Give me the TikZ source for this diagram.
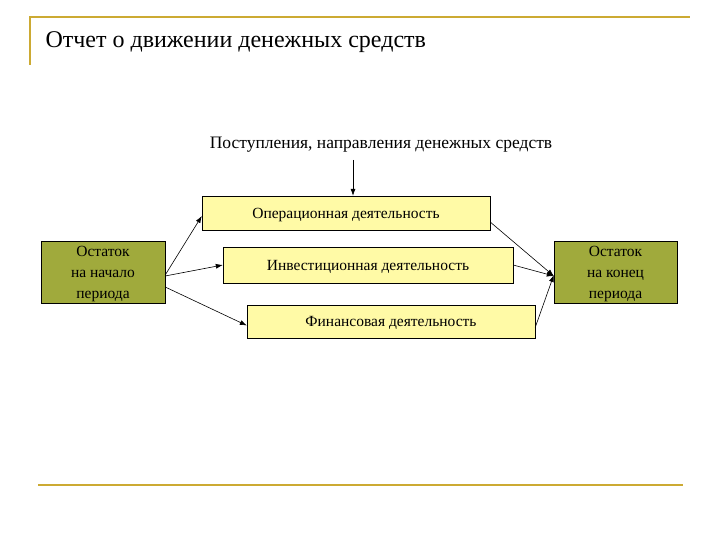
\documentclass[tikz,border=0pt]{standalone}
\usepackage{fontspec}
\setmainfont{Liberation Serif}
\usetikzlibrary{arrows.meta}
\begin{document}
\begin{tikzpicture}[x=1pt,y=-1pt,
  lbox/.style={draw=black,fill=yellow!35!white,inner sep=0pt,text depth=0pt,font=\fontsize{15.5}{18}\selectfont},
  gbox/.style={draw=black,fill={rgb,255:red,160;green,170;blue,60},inner sep=0pt,text depth=-2pt,align=center,font=\fontsize{15.5}{21}\selectfont},
  arr/.style={-{Latex[length=7pt,width=5pt]},semithick},
  gold/.style={draw={rgb,255:red,204;green,170;blue,51},line width=1.5pt}]
\useasboundingbox (0,0) rectangle (720,540);
\draw[gold] (30,65) -- (30,17) -- (690,17);
\draw[gold] (38,485) -- (683,485);
\node[anchor=west,font=\fontsize{24}{28}\selectfont] (title) at (42,42) {Отчет о движении денежных средств};
\node[font=\fontsize{17.5}{20}\selectfont] (head) at (381,145) {Поступления, направления денежных средств};
\node[lbox,minimum width=288,minimum height=34] (op) at (346,213) {Операционная деятельность};
\node[lbox,minimum width=290,minimum height=36] (inv) at (368,265) {Инвестиционная деятельность};
\node[lbox,minimum width=288,minimum height=33] (fin) at (391,321.5) {Финансовая деятельность};
\node[gbox,minimum width=124,minimum height=62] (l) at (103,272) {Остаток\\на начало\\периода};
\node[gbox,minimum width=123,minimum height=62] (r) at (615.5,272) {Остаток\\на конец\\периода};
\draw[arr] (353,160) -- (op.north -| 353,0);
\draw[arr] ([yshift=-3pt]l.east) -- ([yshift=-3pt]op.west);
\draw[arr] ([yshift=-4pt]l.east) -- (inv.west);
\draw[arr] ([yshift=-15pt]l.east) -- ([yshift=-4pt]fin.west);
\draw[arr] ([yshift=-9pt]op.east) -- ([yshift=-4pt]r.west);
\draw[arr] (inv.east) -- ([yshift=-4pt]r.west);
\draw[arr] ([yshift=-6pt]fin.east) -- ([yshift=-3pt]r.west);
\end{tikzpicture}
\end{document}
